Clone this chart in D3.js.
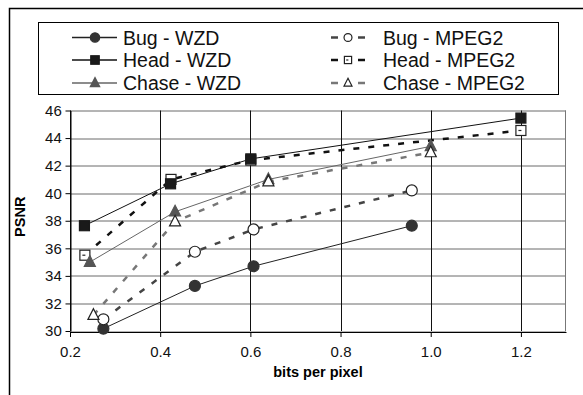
<!DOCTYPE html>
<html>
<head>
<meta charset="utf-8">
<script src="https://cdn.jsdelivr.net/npm/d3@7"></script>
<style>
  body { margin: 0; background: #fff; }
  svg { display: block; font-family: "Liberation Sans", Arial, sans-serif; }
</style>
</head>
<body>
<div id="graph"></div>
<script>
// data: [bits per pixel, PSNR]
var bugWZD    = [[0.274, 30.17], [0.477, 33.27], [0.607, 34.7], [0.958, 37.64]];
var headWZD   = [[0.232, 37.64], [0.423, 40.68], [0.601, 42.49], [1.2, 45.45]];
var chaseWZD  = [[0.244, 35.0], [0.433, 38.65], [0.64, 41.0], [1.0, 43.4]];
var bugMPEG2  = [[0.274, 30.85], [0.477, 35.75], [0.607, 37.37], [0.958, 40.2]];
var headMPEG2 = [[0.233, 35.5], [0.424, 41.0], [0.601, 42.4], [1.2, 44.55]];
var chaseMPEG2 = [[0.252, 31.15], [0.433, 37.93], [0.64, 40.84], [1.0, 42.95]];

var xTicks = [0.2, 0.4, 0.6, 0.8, 1.0, 1.2];
var yTicks = [30, 32, 34, 36, 38, 40, 42, 44, 46];

var series = [
  {name: "Bug - WZD",     data: bugWZD,     shape: "circle",   fill: "#333", color: "#222", dash: null, width: 1},
  {name: "Head - WZD",    data: headWZD,    shape: "square",   fill: "#1a1a1a", color: "#111", dash: null, width: 1},
  {name: "Chase - WZD",   data: chaseWZD,   shape: "triangle", fill: "#555", color: "#666", dash: null, width: 1},
  {name: "Bug - MPEG2",   data: bugMPEG2,   shape: "circle",   fill: "#fff", color: "#444", dash: "6,9", width: 2.5},
  {name: "Head - MPEG2",  data: headMPEG2,  shape: "square",   fill: "#fff", color: "#111", dash: "6,9", width: 2.5},
  {name: "Chase - MPEG2", data: chaseMPEG2, shape: "triangle", fill: "#fff", color: "#777", dash: "6,9", width: 2.5}
];

var W = 583, H = 395;
var margin = {top: 110.5, right: 17, bottom: 64, left: 70};
var width = W - margin.left - margin.right;
var height = H - margin.top - margin.bottom;

var root = d3.select("#graph").append("svg")
    .attr("width", W)
    .attr("height", H);

// outer frame (runs off the right and bottom edge)
root.append("rect")
    .attr("x", 9.5).attr("y", 8.5)
    .attr("width", 640).attr("height", 440)
    .attr("fill", "none").attr("stroke", "#000").attr("stroke-width", 1.5);

var svg = root.append("g")
    .attr("transform", "translate(" + margin.left + "," + margin.top + ")");

var x = d3.scaleLinear().domain([0.2, 1.3]).range([0, width]);
var y = d3.scaleLinear().domain([30, 46]).range([height, 0]);

// grid
svg.append("g").selectAll("line").data(yTicks).join("line")
    .attr("x1", 0).attr("x2", width)
    .attr("y1", function(d) { return Math.round(y(d)) + 0.5; })
    .attr("y2", function(d) { return Math.round(y(d)) + 0.5; })
    .attr("stroke", "#6a6a6a");
svg.append("g").selectAll("line").data(xTicks).join("line")
    .attr("y1", 0).attr("y2", height)
    .attr("x1", function(d) { return Math.round(x(d)) + 0.5; })
    .attr("x2", function(d) { return Math.round(x(d)) + 0.5; })
    .attr("stroke", "#111");
svg.append("line")
    .attr("x1", width - 0.5).attr("x2", width - 0.5).attr("y1", 0).attr("y2", height)
    .attr("stroke", "#777");

// axes
var xAxis = svg.append("g")
    .attr("transform", "translate(0," + (Math.round(height) + 0.5) + ")")
    .call(d3.axisBottom(x).tickValues(xTicks).tickSize(5).tickSizeOuter(0).tickFormat(d3.format(".1f")));
var yAxis = svg.append("g")
    .attr("transform", "translate(0.5,0)")
    .call(d3.axisLeft(y).tickValues(yTicks).tickSize(5).tickSizeOuter(0));
[xAxis, yAxis].forEach(function(a) {
  a.select(".domain").attr("stroke", "#000");
  a.selectAll(".tick line").attr("stroke", "#000");
  a.selectAll("text").attr("font-family", "Liberation Sans, Arial, sans-serif")
      .attr("font-size", 15).attr("fill", "#111");
});
xAxis.selectAll("text").attr("dy", "1.15em");
yAxis.selectAll("text").attr("dx", "-0.05em");

// axis titles
svg.append("text")
    .attr("x", x(0.75)).attr("y", height + 46)
    .attr("text-anchor", "middle")
    .attr("font-weight", "bold").attr("font-size", 14.5)
    .text("bits per pixel");
svg.append("text")
    .attr("transform", "translate(-45," + (height / 2 - 4) + ") rotate(-90)")
    .attr("text-anchor", "middle")
    .attr("font-weight", "bold").attr("font-size", 14.5)
    .text("PSNR");

function drawMarker(g, s, cx, cy, scale) {
  var k = scale || 1;
  var stroke = s.fill === "#fff" ? "#222" : s.fill;
  if (s.shape === "circle") {
    g.append("circle").attr("cx", cx).attr("cy", cy).attr("r", 5.5 * k)
        .attr("fill", s.fill).attr("stroke", stroke).attr("stroke-width", 1.2);
  } else if (s.shape === "square") {
    var h = 5 * k;
    g.append("rect").attr("x", cx - h).attr("y", cy - h).attr("width", 2 * h).attr("height", 2 * h)
        .attr("fill", s.fill).attr("stroke", stroke).attr("stroke-width", 1.2);
    if (s.fill === "#fff") {
      g.append("line").attr("x1", cx - h * 0.5).attr("x2", cx + h * 0.1)
          .attr("y1", cy).attr("y2", cy).attr("stroke", "#222").attr("stroke-width", 1.2);
    }
  } else {
    var t = 6.5 * k;
    g.append("path")
        .attr("d", "M" + cx + "," + (cy - t) + "L" + (cx + t * 0.85) + "," + (cy + t * 0.65) +
                   "L" + (cx - t * 0.85) + "," + (cy + t * 0.65) + "Z")
        .attr("fill", s.fill).attr("stroke", stroke).attr("stroke-width", 1.2);
  }
}

var line = d3.line()
    .x(function(d) { return x(d[0]); })
    .y(function(d) { return y(d[1]); });

// dashed MPEG2 lines underneath, WZD lines over them
[3, 4, 5, 0, 1, 2].forEach(function(i) {
  var s = series[i];
  svg.append("path")
      .datum(s.data)
      .attr("fill", "none")
      .attr("stroke", s.color)
      .attr("stroke-width", s.width)
      .attr("stroke-dasharray", s.dash)
      .attr("d", line);
});
[4, 1, 0, 3, 2, 5].forEach(function(i) {
  var s = series[i];
  var g = svg.append("g");
  s.data.forEach(function(d) { drawMarker(g, s, x(d[0]), y(d[1])); });
});

// legend
var legend = root.append("g");
legend.append("rect")
    .attr("x", 38.5).attr("y", 22.5).attr("width", 520).attr("height", 72)
    .attr("fill", "#fff").attr("stroke", "#000").attr("stroke-width", 1);
var rowY = [37.5, 60, 83];
series.forEach(function(s, i) {
  var col = i < 3 ? 0 : 1;
  var cy = rowY[i % 3];
  var g = legend.append("g");
  if (col === 0) {
    g.append("line").attr("x1", 72).attr("x2", 117).attr("y1", cy).attr("y2", cy)
        .attr("stroke", s.color).attr("stroke-width", 1.5);
    drawMarker(g, s, 95, cy, 0.85);
    g.append("text").attr("x", 123).attr("y", cy).attr("dy", "0.36em")
        .attr("font-size", 19.5).attr("fill", "#111").text(s.name);
  } else {
    [[331, 338], [358, 365]].forEach(function(seg) {
      g.append("line").attr("x1", seg[0]).attr("x2", seg[1]).attr("y1", cy).attr("y2", cy)
          .attr("stroke", s.color).attr("stroke-width", 2.5);
    });
    drawMarker(g, s, 348, cy, 0.72);
    g.append("text").attr("x", 383).attr("y", cy).attr("dy", "0.36em")
        .attr("font-size", 19.5).attr("fill", "#111").text(s.name);
  }
});
</script>
</body>
</html>
